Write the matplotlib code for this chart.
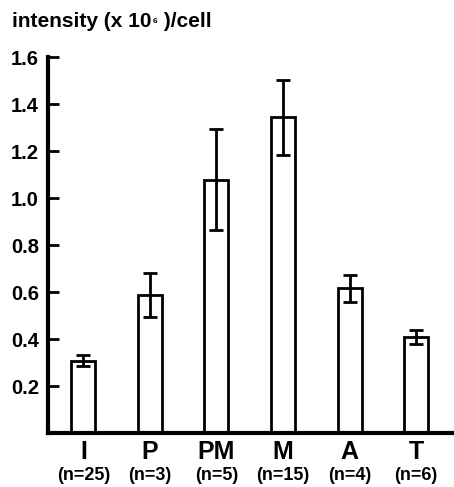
import numpy as np
import matplotlib.pyplot as plt

plt.rcParams['font.family'] = ['Liberation Sans', 'DejaVu Sans']

stages = ['I', 'P', 'PM', 'M', 'A', 'T']
counts = ['(n=25)', '(n=3)', '(n=5)', '(n=15)', '(n=4)', '(n=6)']
intensity = [0.31, 0.59, 1.08, 1.345, 0.617, 0.41]
errors = [0.022, 0.093, 0.215, 0.16, 0.057, 0.03]

fig = plt.figure(figsize=(4.54, 4.87), dpi=100)
ax = fig.add_axes([0.106, 0.11, 0.894, 0.772])

x = np.arange(len(stages))
ax.bar(x, intensity, width=0.36, color='white', edgecolor='black', linewidth=2, zorder=2)
ax.errorbar(x, intensity, yerr=errors, fmt='none', ecolor='black', elinewidth=2,
            capsize=5, capthick=2, zorder=3)

ax.set_xlim(-0.53, 5.57)
ax.set_ylim(0, 1.6)
ax.set_yticks([0.2, 0.4, 0.6, 0.8, 1.0, 1.2, 1.4, 1.6])
ax.set_yticklabels(['0.2', '0.4', '0.6', '0.8', '1.0', '1.2', '1.4', '1.6'],
                   fontsize=14.5, fontweight='bold')
ax.tick_params(axis='y', direction='in', length=8, width=2, pad=6.5)
ax.set_xticks([])

for s in ['top', 'right']:
    ax.spines[s].set_visible(False)
ax.spines['left'].set_linewidth(3)
ax.spines['bottom'].set_linewidth(3)

for xi, s, n in zip(x, stages, counts):
    ax.text(xi, -0.079, s, ha='center', va='center', fontsize=18, fontweight='bold')
    ax.text(xi, -0.177, n, ha='center', va='center', fontsize=13, fontweight='bold')

# title pieces, with a small superscript 6
W, H = fig.bbox.width, fig.bbox.height
base_y = 1 - 27 / H
t1 = fig.text(12 / W, base_y, 'intensity (x 10', fontsize=15, fontweight='bold',
              va='baseline', ha='left')
fig.canvas.draw()
r = fig.canvas.get_renderer()
e1 = t1.get_window_extent(r)
t2 = fig.text((e1.x1 + 1) / W, 1 - 18 / H, '6', fontsize=6, fontweight='bold',
              va='top', ha='left')
e2 = t2.get_window_extent(r)
fig.text((e2.x1 + 1) / W, base_y, ' )/cell', fontsize=15, fontweight='bold',
         va='baseline', ha='left')

fig.savefig('out.png', dpi=100)
